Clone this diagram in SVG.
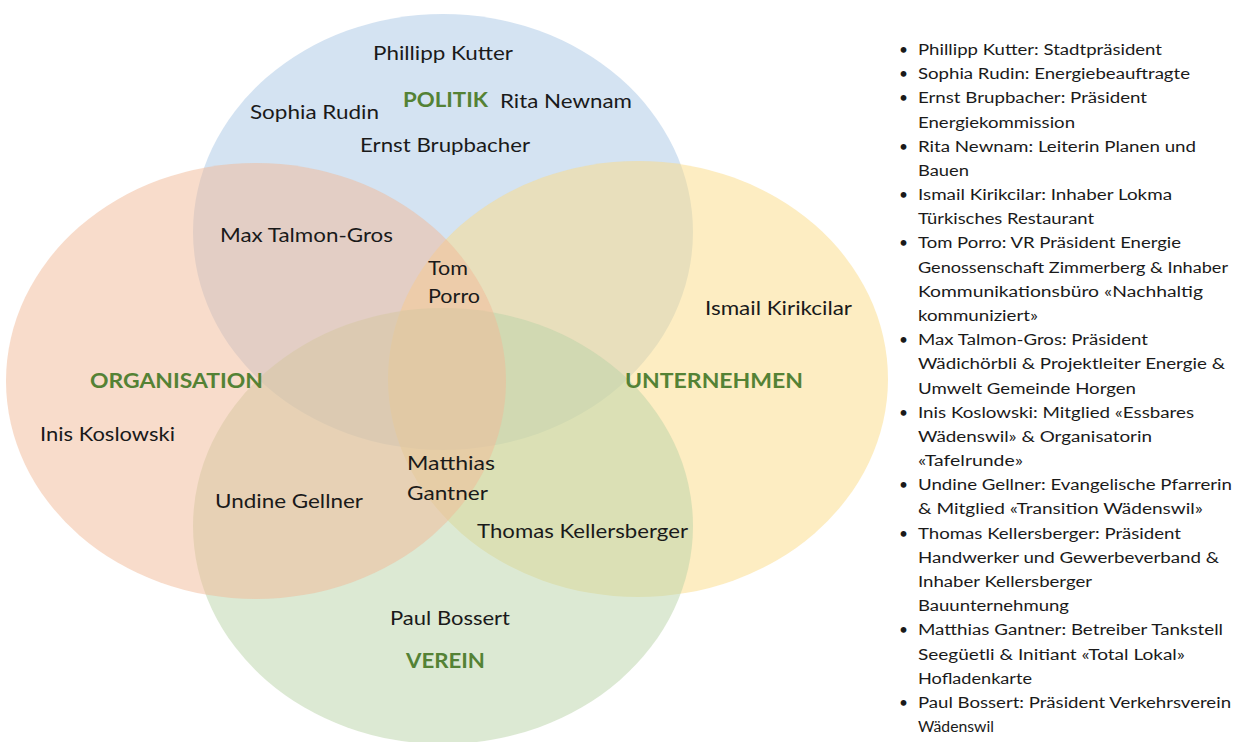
<svg xmlns="http://www.w3.org/2000/svg" width="1247" height="742" viewBox="0 0 1247 742">
  <style>
    .set { fill-opacity: 0.5; stroke: none; }
    .name { font-family: Lato, "Open Sans", "Liberation Sans", sans-serif; font-size: 20px; fill: #1a1a1a; }
    .cat { font-family: Lato, "Open Sans", "Liberation Sans", sans-serif; font-size: 20px; font-weight: bold; fill: #548235; }
    .list { font-family: Lato, "Open Sans", "Liberation Sans", sans-serif; font-size: 15.5px; fill: #1a1a1a; }
  </style>
  <rect width="1247" height="742" fill="#ffffff"/>

  <!-- Four overlapping sets, drawn top, right, bottom, left -->
  <g id="sets">
    <ellipse id="set-politik" class="set" cx="443" cy="232" rx="250" ry="218" fill="#a9c7e5"/>
    <ellipse id="set-unternehmen" class="set" cx="638" cy="379" rx="250" ry="218" fill="#fbdb85"/>
    <ellipse id="set-verein" class="set" cx="443" cy="526" rx="250" ry="218" fill="#b9d3a7"/>
    <ellipse id="set-organisation" class="set" cx="256" cy="381" rx="250" ry="218" fill="#f1b997"/>
  </g>

  <!-- Set titles -->
  <g id="titles">
    <text id="t-politik" class="cat" x="403" y="107" textLength="85" lengthAdjust="spacingAndGlyphs">POLITIK</text>
    <text id="t-organisation" class="cat" x="90" y="388" textLength="173" lengthAdjust="spacingAndGlyphs">ORGANISATION</text>
    <text id="t-unternehmen" class="cat" x="625" y="388" textLength="178" lengthAdjust="spacingAndGlyphs">UNTERNEHMEN</text>
    <text id="t-verein" class="cat" x="406" y="668" textLength="79" lengthAdjust="spacingAndGlyphs">VEREIN</text>
  </g>

  <!-- People placed in their sets -->
  <g id="people">
    <g id="p-kutter"><text class="name" x="373" y="60" textLength="140" lengthAdjust="spacingAndGlyphs">Phillipp Kutter</text></g>
    <g id="p-rudin"><text class="name" x="250" y="119" textLength="129" lengthAdjust="spacingAndGlyphs">Sophia Rudin</text></g>
    <g id="p-newnam"><text class="name" x="500" y="108" textLength="132" lengthAdjust="spacingAndGlyphs">Rita Newnam</text></g>
    <g id="p-brupbacher"><text class="name" x="360" y="152" textLength="170" lengthAdjust="spacingAndGlyphs">Ernst Brupbacher</text></g>
    <g id="p-talmon"><text class="name" x="220" y="242" textLength="173" lengthAdjust="spacingAndGlyphs">Max Talmon-Gros</text></g>
    <g id="p-porro">
      <text class="name" x="428" y="275" textLength="40" lengthAdjust="spacingAndGlyphs">Tom</text>
      <text class="name" x="428" y="303" textLength="52" lengthAdjust="spacingAndGlyphs">Porro</text>
    </g>
    <g id="p-kirikcilar"><text class="name" x="705" y="315" textLength="147" lengthAdjust="spacingAndGlyphs">Ismail Kirikcilar</text></g>
    <g id="p-koslowski"><text class="name" x="40" y="441" textLength="135" lengthAdjust="spacingAndGlyphs">Inis Koslowski</text></g>
    <g id="p-gantner">
      <text class="name" x="407" y="470" textLength="88" lengthAdjust="spacingAndGlyphs">Matthias</text>
      <text class="name" x="407" y="500" textLength="81" lengthAdjust="spacingAndGlyphs">Gantner</text>
    </g>
    <g id="p-gellner"><text class="name" x="215" y="508" textLength="148" lengthAdjust="spacingAndGlyphs">Undine Gellner</text></g>
    <g id="p-kellersberger"><text class="name" x="477" y="538" textLength="211" lengthAdjust="spacingAndGlyphs">Thomas Kellersberger</text></g>
    <g id="p-bossert"><text class="name" x="390" y="625" textLength="120" lengthAdjust="spacingAndGlyphs">Paul Bossert</text></g>
  </g>

  <!-- Role legend -->
  <g id="legend" class="list">
    <text x="899" y="55">•</text><text x="918" y="55" textLength="244" lengthAdjust="spacingAndGlyphs">Phillipp Kutter: Stadtpräsident</text>
    <text x="899" y="79.2">•</text><text x="918" y="79.2" textLength="272" lengthAdjust="spacingAndGlyphs">Sophia Rudin: Energiebeauftragte</text>
    <text x="899" y="103.4">•</text><text x="918" y="103.4" textLength="229" lengthAdjust="spacingAndGlyphs">Ernst Brupbacher: Präsident</text>
    <text x="918" y="127.5" textLength="157" lengthAdjust="spacingAndGlyphs">Energiekommission</text>
    <text x="899" y="151.7">•</text><text x="918" y="151.7" textLength="278" lengthAdjust="spacingAndGlyphs">Rita Newnam: Leiterin Planen und</text>
    <text x="918" y="175.9" textLength="51" lengthAdjust="spacingAndGlyphs">Bauen</text>
    <text x="899" y="200.1">•</text><text x="918" y="200.1" textLength="254" lengthAdjust="spacingAndGlyphs">Ismail Kirikcilar: Inhaber Lokma</text>
    <text x="918" y="224.3" textLength="176" lengthAdjust="spacingAndGlyphs">Türkisches Restaurant</text>
    <text x="899" y="248.4">•</text><text x="918" y="248.4" textLength="263" lengthAdjust="spacingAndGlyphs">Tom Porro: VR Präsident Energie</text>
    <text x="918" y="272.6" textLength="310" lengthAdjust="spacingAndGlyphs">Genossenschaft Zimmerberg &amp; Inhaber</text>
    <text x="918" y="296.8" textLength="285" lengthAdjust="spacingAndGlyphs">Kommunikationsbüro «Nachhaltig</text>
    <text x="918" y="321" textLength="120" lengthAdjust="spacingAndGlyphs">kommuniziert»</text>
    <text x="899" y="345.2">•</text><text x="918" y="345.2" textLength="230" lengthAdjust="spacingAndGlyphs">Max Talmon-Gros: Präsident</text>
    <text x="918" y="369.3" textLength="307" lengthAdjust="spacingAndGlyphs">Wädichörbli &amp; Projektleiter Energie &amp;</text>
    <text x="918" y="393.5" textLength="218" lengthAdjust="spacingAndGlyphs">Umwelt Gemeinde Horgen</text>
    <text x="899" y="417.7">•</text><text x="918" y="417.7" textLength="276" lengthAdjust="spacingAndGlyphs">Inis Koslowski: Mitglied «Essbares</text>
    <text x="918" y="441.9" textLength="234" lengthAdjust="spacingAndGlyphs">Wädenswil» &amp; Organisatorin</text>
    <text x="918" y="466.1" textLength="105" lengthAdjust="spacingAndGlyphs">«Tafelrunde»</text>
    <text x="899" y="490.2">•</text><text x="918" y="490.2" textLength="314" lengthAdjust="spacingAndGlyphs">Undine Gellner: Evangelische Pfarrerin</text>
    <text x="918" y="514.4" textLength="285" lengthAdjust="spacingAndGlyphs">&amp; Mitglied «Transition Wädenswil»</text>
    <text x="899" y="538.6">•</text><text x="918" y="538.6" textLength="263" lengthAdjust="spacingAndGlyphs">Thomas Kellersberger: Präsident</text>
    <text x="918" y="562.8" textLength="301" lengthAdjust="spacingAndGlyphs">Handwerker und Gewerbeverband &amp;</text>
    <text x="918" y="587" textLength="174" lengthAdjust="spacingAndGlyphs">Inhaber Kellersberger</text>
    <text x="918" y="611.1" textLength="151" lengthAdjust="spacingAndGlyphs">Bauunternehmung</text>
    <text x="899" y="635.3">•</text><text x="918" y="635.3" textLength="305" lengthAdjust="spacingAndGlyphs">Matthias Gantner: Betreiber Tankstell</text>
    <text x="918" y="659.5" textLength="267" lengthAdjust="spacingAndGlyphs">Seegüetli &amp; Initiant «Total Lokal»</text>
    <text x="918" y="683.7" textLength="114" lengthAdjust="spacingAndGlyphs">Hofladenkarte</text>
    <text x="899" y="707.9">•</text><text x="918" y="707.9" textLength="313" lengthAdjust="spacingAndGlyphs">Paul Bossert: Präsident Verkehrsverein</text>
    <text x="918" y="732" textLength="76" lengthAdjust="spacingAndGlyphs">Wädenswil</text>
  </g>
</svg>
